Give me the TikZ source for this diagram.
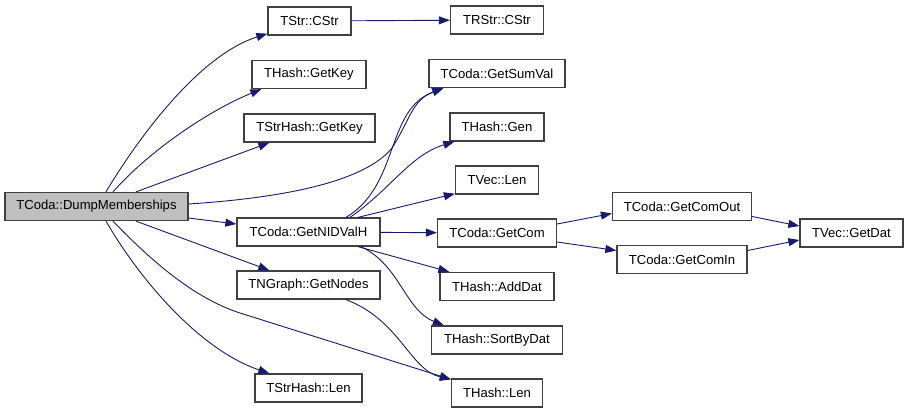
\documentclass[tikz,border=0pt]{standalone}
\usepackage{fontspec}
\setmainfont{Liberation Sans}
\usetikzlibrary{arrows.meta,positioning,calc}
\definecolor{callblue}{RGB}{25,25,112}
\definecolor{selfgray}{RGB}{191,191,191}
\tikzset{
  func/.style={
    draw=black!75,
    fill=white,
    line width=1.3bp,
    align=center,
    minimum height=28bp,
    inner sep=0pt,
    font=\fontsize{13.1bp}{15bp}\selectfont
  },
  call/.style={-{Triangle[length=11bp,width=8bp]}, draw=callblue, line width=0.9bp}
}
\begin{document}
\begin{tikzpicture}[x=1bp,y=-1bp]
        \useasboundingbox (0,0) rectangle (909,413);
        % callee columns
        \node[func, fill=selfgray, minimum width=183bp] (dump) at (96.5,206.5) {TCoda::DumpMemberships};
        \node[func, minimum width=83bp] (cstr) at (309.5,21) {TStr::CStr};
        \node[func, minimum width=114bp] (hgetkey) at (309,74.5) {THash::GetKey};
        \node[func, minimum width=131bp] (shgetkey) at (309.5,128) {TStrHash::GetKey};
        \node[func, minimum width=143bp] (nidvalh) at (308.5,232) {TCoda::GetNIDValH};
        \node[func, minimum width=143bp] (getnodes) at (308.5,285) {TNGraph::GetNodes};
        \node[func, minimum width=107bp] (shlen) at (308.5,388) {TStrHash::Len};
        \node[func, minimum width=93bp] (rcstr) at (497,20) {TRStr::CStr};
        \node[func, minimum width=136bp] (sumval) at (497,73.5) {TCoda::GetSumVal};
        \node[func, minimum width=94bp] (gen) at (497,127) {THash::Gen};
        \node[func, minimum width=83bp] (vlen) at (497,180) {TVec::Len};
        \node[func, minimum width=119bp] (getcom) at (497,233) {TCoda::GetCom};
        \node[func, minimum width=114bp] (adddat) at (497,286.5) {THash::AddDat};
        \node[func, minimum width=131bp] (sortbydat) at (497,340) {THash::SortByDat};
        \node[func, minimum width=91bp] (hlen) at (497,393) {THash::Len};
        \node[func, minimum width=139bp] (comout) at (682,206.5) {TCoda::GetComOut};
        \node[func, minimum width=130bp] (comin) at (682,259.5) {TCoda::GetComIn};
        \node[func, minimum width=103bp] (getdat) at (851.5,233) {TVec::GetDat};
        % calls from DumpMemberships
        \draw[call] ([xshift=9.5bp]dump.north) .. controls (140,135) and (200,55) .. ([yshift=2bp]cstr.south west);
        \draw[call] ([xshift=16.5bp]dump.north) .. controls (150,150) and (210,110) .. ([xshift=10bp]hgetkey.south west);
        \draw[call] ([xshift=39.5bp]dump.north) -- ([xshift=26bp]shgetkey.south west);
        \draw[call] ([yshift=2.5bp]dump.east) .. controls (310,196) and (370,175) .. (392,148) .. controls (410,120) and (412,100) .. ([xshift=15bp]sumval.south west);
        \draw[call] ([yshift=-11.5bp]dump.east) -- ([yshift=8bp]nidvalh.west);
        \draw[call] ([xshift=39.5bp]dump.south) -- ([xshift=33bp]getnodes.north west);
        \draw[call] ([xshift=16.5bp]dump.south) .. controls (160,270) and (200,300) .. (240,313) -- ([yshift=-1bp]hlen.north west);
        \draw[call] ([xshift=9.5bp]dump.south) .. controls (140,280) and (200,350) .. ([xshift=15bp]shlen.north west);
        \draw[call] (cstr) -- (rcstr);
        % calls from GetNIDValH
        \draw[call] ([xshift=37.5bp]nidvalh.north) .. controls (400,185) and (385,110) .. ([xshift=15bp]sumval.south west);
        \draw[call] ([xshift=41.5bp]nidvalh.north) .. controls (390,190) and (410,155) .. ([xshift=5bp]gen.south west);
        \draw[call] ([xshift=49.5bp]nidvalh.north) -- ([yshift=1bp]vlen.south west);
        \draw[call] (nidvalh) -- (getcom);
        \draw[call] ([xshift=49.5bp]nidvalh.south) -- ([xshift=10bp]adddat.north west);
        \draw[call] ([xshift=52.5bp]nidvalh.south) .. controls (400,265) and (405,310) .. ([xshift=13bp]sortbydat.north west);
        \draw[call] ([xshift=37.5bp]getnodes.south) .. controls (400,320) and (410,370) .. ([yshift=-1bp]hlen.north west);
        % GetCom branch
        \draw[call] ([yshift=9bp]getcom.east) -- ([yshift=-7bp]comout.west);
        \draw[call] ([yshift=-9bp]getcom.east) -- ([yshift=9bp]comin.west);
        \draw[call] ([yshift=-10bp]comout.east) -- ([yshift=7bp]getdat.west);
        \draw[call] ([yshift=9bp]comin.east) -- ([yshift=-7bp]getdat.west);
      \end{tikzpicture}
\end{document}
